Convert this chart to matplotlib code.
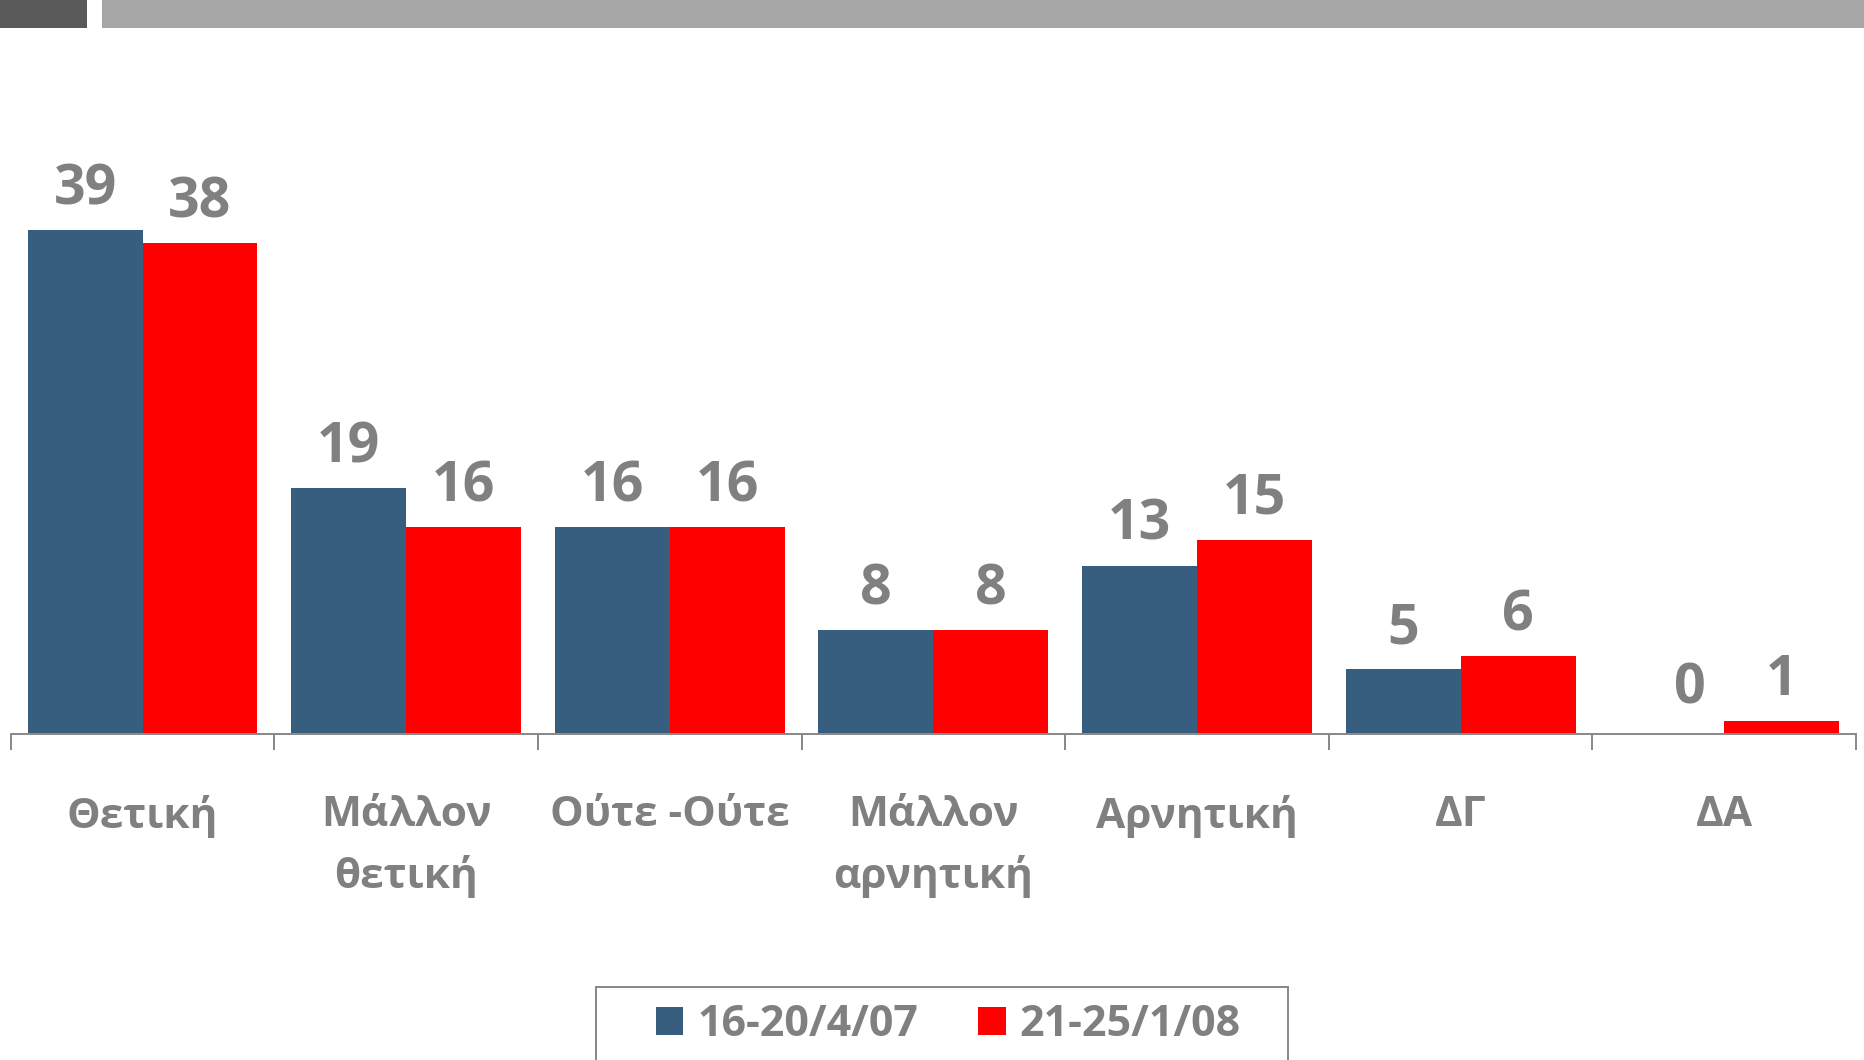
import matplotlib
matplotlib.use("Agg")
import matplotlib.pyplot as plt
from matplotlib.patches import Rectangle
import numpy as np

categories = ["Θετική", "Μάλλον\nθετική", "Ούτε -Ούτε", "Μάλλον\nαρνητική",
              "Αρνητική", "ΔΓ", "ΔΑ"]
series_names = ["16-20/4/07", "21-25/1/08"]
values_2007 = [39, 19, 16, 8, 13, 5, 0]
values_2008 = [38, 16, 16, 8, 15, 6, 1]

BLUE = "#375E7E"
RED = "#FF0000"
GRAY = "#808080"
AXGRAY = "#8A8A8A"

plt.rcParams['font.family'] = ['Open Sans', 'DejaVu Sans']
plt.rcParams['font.weight'] = 'bold'

W, H = 1864, 1060
fig = plt.figure(figsize=(W / 100, H / 100), dpi=100)
px = 72 / 100  # points per pixel

# header bars
fig.add_artist(Rectangle((0, 1 - 28 / H), 87 / W, 28 / H, transform=fig.transFigure,
                         facecolor="#595959", edgecolor="none"))
fig.add_artist(Rectangle((102 / W, 1 - 28 / H), 1 - 102 / W, 28 / H, transform=fig.transFigure,
                         facecolor="#A6A6A6", edgecolor="none"))

left, right = 10.7 / W, 1856 / W
bottom = 1 - 733.5 / H
ytop = 45
height = ytop * 12.9 / H
ax = fig.add_axes([left, bottom, right - left, height])

x = np.arange(len(categories))
bw = 0.436
b1 = ax.bar(x - bw / 2, values_2007, bw, color=BLUE, label=series_names[0], zorder=2)
b2 = ax.bar(x + bw / 2, values_2008, bw, color=RED, label=series_names[1], zorder=2)

for bars in (b1, b2):
    for rect in bars:
        v = rect.get_height()
        dx, dy = (23, 29.5) if v == 0 else (0, 26)
        ax.annotate(f"{v:g}", (rect.get_x() + rect.get_width() / 2, v),
                    xytext=(dx * px, dy * px), textcoords="offset points",
                    ha="center", va="baseline", fontsize=40, fontweight="bold",
                    color=GRAY)

ax.set_xlim(-0.5, len(categories) - 0.5)
ax.set_ylim(0, ytop)
for s in ("top", "right", "left"):
    ax.spines[s].set_visible(False)
ax.spines["bottom"].set_color(AXGRAY)
ax.spines["bottom"].set_linewidth(2 * px)
ax.set_yticks([])

ax.set_xticks(np.arange(len(categories) + 1) - 0.5)
ax.set_xticklabels([])
ax.tick_params(axis="x", which="major", direction="out", length=16 * px,
               width=2 * px, color=AXGRAY)
ax.set_xticks(x, minor=True)
ax.set_xticklabels(categories, minor=True)
ax.tick_params(axis="x", which="minor", length=0, pad=61 * px,
               labelsize=30.5, labelcolor=GRAY)
for lab in ax.get_xticklabels(minor=True):
    lab.set_verticalalignment("top")
    lab.set_linespacing(1.6)
    lab.set_fontweight("bold")

# legend
fig.legend(handles=[b1, b2], labels=series_names, loc="center left",
           bbox_to_anchor=(656 / W, 1 - 1024.5 / H), ncol=2, frameon=False,
           handlelength=0.63, handleheight=0.63, handletextpad=0.33,
           columnspacing=1.4, borderpad=0, borderaxespad=0,
           labelcolor=GRAY, prop={'weight': 'bold', 'size': 31})
fig.add_artist(Rectangle((596 / W, -0.02), (1288 - 596) / W, 1 - 987 / H + 0.02,
                         transform=fig.transFigure, fill=False,
                         edgecolor=AXGRAY, linewidth=2 * px))

fig.savefig("out.png", dpi=100)
